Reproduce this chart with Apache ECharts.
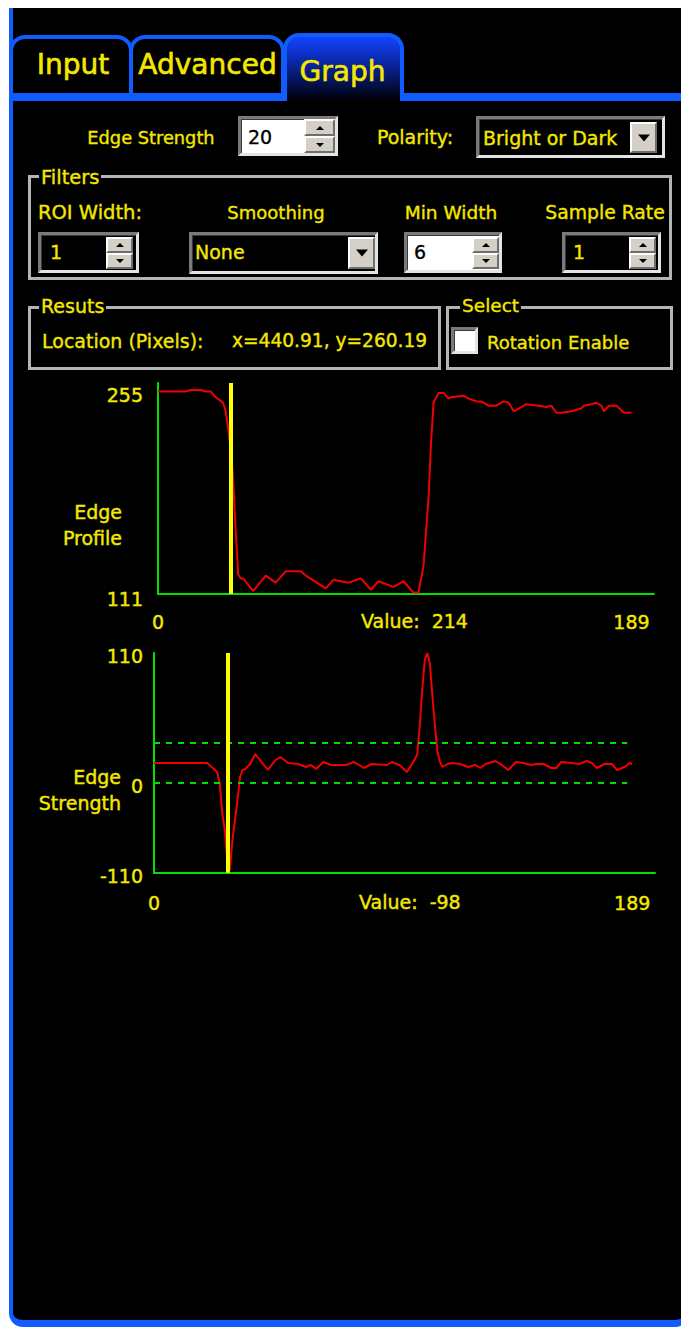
<!DOCTYPE html>
<html>
<head>
<meta charset="utf-8">
<title>Edge Tool - Graph</title>
<script src="https://cdn.jsdelivr.net/npm/echarts@6.0.0/dist/echarts.min.js"></script>
<style>
  html, body { margin:0; padding:0; background:#fff; }
  body { position:relative; width:681px; height:1328px; overflow:hidden; font-family:'DejaVu Sans', sans-serif; }
  .a { position:absolute; box-sizing:border-box; }
  .t { position:absolute; white-space:nowrap; line-height:1; color:#f5e800; -webkit-text-stroke:0.35px currentColor; }
  .tb { -webkit-text-stroke:0.6px currentColor; }
  .c { text-align:center; }
  .blue { background:#0f5cff; }
  .panel { left:9px; top:8px; width:680px; height:1319px; background:#000; border-left:4px solid #0f5cff; border-right:4px solid #0f5cff; border-bottom:7px solid #0f5cff; border-radius:0 0 14px 14px; }
  .tab { border:4px solid #0f5cff; border-bottom:none; border-radius:16px 16px 0 0; background:#000; }
  .sunken { border:3px solid; border-color:#7a7a7a #e4e4e4 #e4e4e4 #7a7a7a; box-shadow: inset 1px 1px 0 #3a3a3a; }
  .group { border:3px solid #b4b4b4; }
  .btn { background:#d4d0c8; border:2px solid; border-color:#fff #6e6e6e #6e6e6e #fff; }
  .up, .dn, .big { width:0; height:0; position:absolute; left:50%; top:50%; transform:translate(-50%,-50%); }
  .up { border-left:4px solid transparent; border-right:4px solid transparent; border-bottom:4px solid #000; }
  .dn { border-left:4px solid transparent; border-right:4px solid transparent; border-top:4px solid #000; }
  .big { border-left:6px solid transparent; border-right:6px solid transparent; border-top:7px solid #000; }
  .lbl { background:#000; padding:0 2px; }
  #chart { position:absolute; left:0; top:0; width:681px; height:1328px; pointer-events:none; }
</style>
</head>
<body>
<!-- window panel -->
<div class="a panel"></div>

<!-- tabs -->
<div class="a tab" style="left:9px;top:35px;width:124px;height:66px;"></div>
<div class="a tab" style="left:129px;top:35px;width:156px;height:66px;"></div>
<div class="a blue" style="left:9px;top:93px;width:276px;height:8px;"></div>
<div class="a blue" style="left:400px;top:93px;width:290px;height:8px;"></div>
<div class="a tab" style="left:283px;top:33px;width:121px;height:68px;background:linear-gradient(to bottom,#1244ff 0%,#0a2ab0 35%,#04104a 75%,#000 100%);"></div>
<div class="t tb c" style="left:23px;top:51px;width:100px;font-size:28px;">Input</div>
<div class="t tb c" style="left:137px;top:51px;width:141px;font-size:28px;">Advanced</div>
<div class="t tb c" style="left:292px;top:57.5px;width:101px;font-size:28px;">Graph</div>

<!-- edge strength / polarity row -->
<div class="t c" style="left:71px;top:128.5px;width:160px;font-size:17.8px;">Edge Strength</div>
<div class="a sunken" style="left:238px;top:116px;width:100px;height:40px;background:#fff;"></div>
<div class="t" style="left:248px;top:128.4px;font-size:19px;color:#000;">20</div>
<div class="a btn" style="left:304px;top:119px;width:31px;height:17px;"><div class="up"></div></div>
<div class="a btn" style="left:304px;top:136px;width:31px;height:17px;"><div class="dn"></div></div>

<div class="t c" style="left:365px;top:127.9px;width:100px;font-size:19px;">Polarity:</div>
<div class="a sunken" style="left:476px;top:116px;width:189px;height:42px;background:#000;"></div>
<div class="t" style="left:483px;top:128.9px;font-size:19px;">Bright or Dark</div>
<div class="a btn" style="left:630px;top:122px;width:27px;height:31px;"><div class="big"></div></div>

<!-- Filters group -->
<div class="a group" style="left:28px;top:175px;width:644px;height:105px;"></div>
<div class="t lbl" style="left:39px;top:167.6px;font-size:19.5px;">Filters</div>
<div class="t c" style="left:30px;top:203.1px;width:120px;font-size:19.5px;">ROI Width:</div>
<div class="t c" style="left:216px;top:203.6px;width:120px;font-size:18px;">Smoothing</div>
<div class="t c" style="left:391px;top:203.6px;width:120px;font-size:18.5px;">Min Width</div>
<div class="t c" style="left:540px;top:203.6px;width:130px;font-size:18.8px;">Sample Rate</div>

<div class="a sunken" style="left:38px;top:232px;width:101px;height:41px;background:#000;"></div>
<div class="t" style="left:50px;top:243.4px;font-size:19px;">1</div>
<div class="a btn" style="left:106px;top:237px;width:27px;height:16px;"><div class="up"></div></div>
<div class="a btn" style="left:106px;top:253px;width:27px;height:16px;"><div class="dn"></div></div>

<div class="a sunken" style="left:189px;top:232px;width:189px;height:42px;background:#000;"></div>
<div class="t" style="left:195px;top:243.4px;font-size:19px;">None</div>
<div class="a btn" style="left:348px;top:237px;width:27px;height:32px;"><div class="big"></div></div>

<div class="a sunken" style="left:404px;top:232px;width:98px;height:41px;background:#fff;"></div>
<div class="t" style="left:414px;top:243.4px;font-size:19px;color:#000;">6</div>
<div class="a btn" style="left:472px;top:237px;width:27px;height:16px;"><div class="up"></div></div>
<div class="a btn" style="left:472px;top:253px;width:27px;height:16px;"><div class="dn"></div></div>

<div class="a sunken" style="left:562px;top:232px;width:99px;height:41px;background:#000;"></div>
<div class="t" style="left:573px;top:243.4px;font-size:19px;">1</div>
<div class="a btn" style="left:629px;top:237px;width:27px;height:16px;"><div class="up"></div></div>
<div class="a btn" style="left:629px;top:253px;width:27px;height:16px;"><div class="dn"></div></div>

<!-- Results group -->
<div class="a group" style="left:28px;top:306px;width:413px;height:64px;"></div>
<div class="t lbl" style="left:39px;top:297.4px;font-size:19px;">Resuts</div>
<div class="t" style="left:42px;top:331.9px;font-size:19px;">Location (Pixels):</div>
<div class="t" style="left:232px;top:332.3px;font-size:18.6px;">x=440.91, y=260.19</div>

<!-- Select group -->
<div class="a group" style="left:446px;top:306px;width:227px;height:64px;"></div>
<div class="t lbl" style="left:460px;top:297.4px;font-size:18.5px;">Select</div>
<div class="a sunken" style="left:451px;top:327px;width:27px;height:27px;background:#fff;"></div>
<div class="t" style="left:487px;top:334.3px;font-size:18px;">Rotation Enable</div>

<div id="chart"></div>

<script>
// ---------------- data ----------------
const profileX = [0,11,13,17,19,21,23,26,27,28,29,30,31,32,33,34,38,43,47,51,57,59,67,70,76,81,85,88,94,98,102,104,106,108,109,110,112,114,116,117,122,124,127,129,132,135,138,140,142,145,147,152,155,157,159,161,165,169,170,173,175,177,178,180,183,186,189];
const profileValues = [254,254,255,255,254,254,250,246,240,228,214,192,156,125,122,122,113,124,119,127,127,124,115,121,119,122,114,120,116,120,112,112,131,179,218,246,253,253,249,250,251,249,247,247,244,244,247,246,240,243,245,244,243,244,239,239,240,242,244,245,246,244,240,244,244,239,239];

const strengthX = [0,21,25,26,27,28,29,30,31,33,34,35,36,38,40,45,48,50,53,57,60,62,64,67,70,76,79,83,86,92,94,97,100,102,104,105,106,107,108,109,110,111,112,113,114,116,118,121,124,127,129,131,135,137,140,143,146,149,151,154,157,159,161,165,168,171,173,175,178,181,183,186,188,189];
const strengthValues = [0,0,-9,-21,-51,-67,-98,-107,-77,-37,-14,-7,-6,-1,9,-7,3,6,0,-1,-4,-2,-6,1,-2,-2,1,-5,-1,-2,1,-2,-9,-1,8,36,73,103,110,100,68,38,12,1,-4,-1,0,-1,-4,-2,-5,-1,2,-1,-7,1,0,-2,-1,-1,-5,-5,1,0,-1,2,0,-5,-1,-1,-7,-4,0,-1];

const cursorX = 29;
const thresholds = [20, -20];
const thresholdEndX = 187;
const xTicks = [0, 189];
const profileYTicks = [111, 255];
const strengthYTicks = [-110, -20, 110];
const strengthYTickLabels = ['-110', '0', '110'];
const readouts = ['Value:  214', 'Value:  -98'];
const axisTitles = ['Edge\nProfile', 'Edge\nStrength'];

// ---------------- chart ----------------
const YEL = '#f5e800', GRN = '#00e000', RED = '#f00000', FONT = 'DejaVu Sans';
const pairs = (xs, ys) => xs.map((x, i) => [x, ys[i]]);
const txt = {color: YEL, fontFamily: FONT, fontSize: 19, textBorderColor: YEL, textBorderWidth: 0.4};

const chart = echarts.init(document.getElementById('chart'), null, {renderer: 'svg', width: 681, height: 1328});

function xAxis(gi, margin) {
  return {
    gridIndex: gi, type: 'value', min: 0, max: 198,
    axisLine: {show: true, onZero: false, lineStyle: {color: GRN, width: 2}},
    axisTick: {show: false}, splitLine: {show: false},
    axisLabel: Object.assign({customValues: xTicks, margin: margin}, txt)
  };
}

const option = {
  backgroundColor: 'transparent',
  animation: false,
  grid: [
    {left: 158, top: 383, width: 496, height: 211, containLabel: false, outerBoundsMode: 'none'},
    {left: 154, top: 653, width: 501, height: 220, containLabel: false, outerBoundsMode: 'none'}
  ],
  xAxis: [xAxis(0, 18), xAxis(1, 20)],
  yAxis: [
    {
      gridIndex: 0, type: 'value', min: 111, max: 260,
      axisLine: {show: true, onZero: false, lineStyle: {color: GRN, width: 2}},
      axisTick: {show: false}, splitLine: {show: false},
      axisLabel: Object.assign({customValues: profileYTicks, margin: 15, verticalAlign: 'top', lineHeight: 10}, txt)
    },
    {
      gridIndex: 1, type: 'value', min: -110, max: 110,
      axisLine: {show: true, onZero: false, lineStyle: {color: GRN, width: 2}},
      axisTick: {show: false}, splitLine: {show: false},
      axisLabel: Object.assign({
        customValues: strengthYTicks, margin: 11, verticalAlign: 'top', lineHeight: 6,
        formatter: v => strengthYTickLabels[strengthYTicks.indexOf(v)]
      }, txt)
    }
  ],
  series: [
    {
      name: 'Edge Profile', type: 'line', xAxisIndex: 0, yAxisIndex: 0,
      data: pairs(profileX, profileValues), symbol: 'none', z: 2,
      lineStyle: {color: RED, width: 2}
    },
    {
      name: 'cursor1', type: 'line', xAxisIndex: 0, yAxisIndex: 0, data: [], z: 4,
      markLine: {silent: true, symbol: ['none', 'none'], label: {show: false}, animation: false,
        lineStyle: {color: '#ffff00', width: 4, type: 'solid'}, data: [{xAxis: cursorX}]}
    },
    {
      name: 'thresholds', type: 'line', xAxisIndex: 1, yAxisIndex: 1, data: [], z: 1,
      markLine: {silent: true, symbol: ['none', 'none'], label: {show: false}, animation: false,
        lineStyle: {color: GRN, width: 2, type: [6, 6]},
        data: thresholds.map(t => [{coord: [0, t]}, {coord: [thresholdEndX, t]}])}
    },
    {
      name: 'Edge Strength', type: 'line', xAxisIndex: 1, yAxisIndex: 1,
      data: pairs(strengthX, strengthValues), symbol: 'none', z: 2,
      lineStyle: {color: RED, width: 2}
    },
    {
      name: 'cursor2', type: 'line', xAxisIndex: 1, yAxisIndex: 1, data: [], z: 4,
      markLine: {silent: true, symbol: ['none', 'none'], label: {show: false}, animation: false,
        lineStyle: {color: '#ffff00', width: 4, type: 'solid'}, data: [{xAxis: cursorX}]}
    }
  ],
  graphic: [
    {type: 'text', x: 361, y: 621, style: {text: readouts[0], fill: YEL, stroke: YEL, lineWidth: 0.4, fontFamily: FONT, fontSize: 19, align: 'left', verticalAlign: 'middle'}},
    {type: 'text', x: 359, y: 901.5, style: {text: readouts[1], fill: YEL, stroke: YEL, lineWidth: 0.4, fontFamily: FONT, fontSize: 19, align: 'left', verticalAlign: 'middle'}},
    {type: 'text', x: 122, y: 525, style: {text: axisTitles[0], fill: YEL, stroke: YEL, lineWidth: 0.4, fontFamily: FONT, fontSize: 19, lineHeight: 26, align: 'right', verticalAlign: 'middle'}},
    {type: 'text', x: 121, y: 789.5, style: {text: axisTitles[1], fill: YEL, stroke: YEL, lineWidth: 0.4, fontFamily: FONT, fontSize: 19, lineHeight: 26, align: 'right', verticalAlign: 'middle'}}
  ]
};
chart.setOption(option);
</script>
</body>
</html>
